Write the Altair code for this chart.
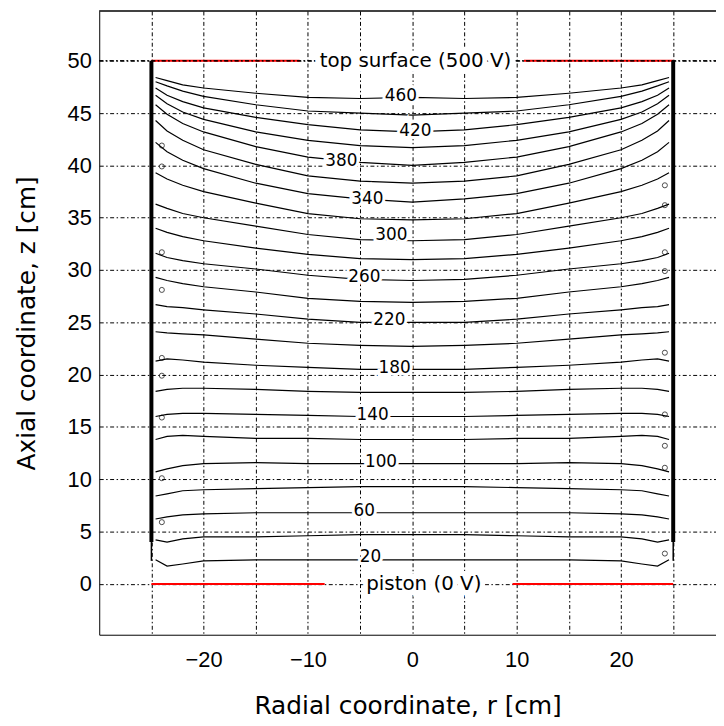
import altair as alt
import pandas as pd

# ---- data ----
levels = [20, 40, 60, 80, 100, 120, 140, 160, 180, 200, 220, 240,
          260, 280, 300, 320, 340, 360, 380, 400, 420, 440, 460]
# |r| positions (cm) at which each equipotential was read (mirrored on both sides)
r_half = [0, 5, 10, 15, 20, 22, 23.5, 24.6]
z_profiles = [
    [2.3, 2.3, 2.3, 2.3, 2.2, 1.9, 1.7, 2.3],
    [4.7, 4.7, 4.6, 4.5, 4.5, 4.3, 4.0, 4.2],
    [6.8, 6.8, 6.8, 6.8, 6.7, 6.6, 6.4, 6.2],
    [9.3, 9.3, 9.2, 9.1, 9.0, 8.9, 8.6, 8.4],
    [11.5, 11.5, 11.5, 11.6, 11.5, 11.3, 11.0, 10.7],
    [13.8, 13.8, 13.9, 13.9, 14.1, 14.2, 14.1, 13.8],
    [16.0, 16.0, 16.1, 16.2, 16.3, 16.3, 16.2, 16.0],
    [18.3, 18.3, 18.4, 18.6, 18.7, 18.7, 18.6, 18.4],
    [20.5, 20.5, 20.7, 20.9, 21.2, 21.4, 21.5, 21.3],
    [22.7, 22.8, 23.0, 23.4, 23.8, 23.9, 24.0, 24.1],
    [25.0, 25.0, 25.3, 25.8, 26.2, 26.4, 26.5, 26.7],
    [26.9, 27.0, 27.3, 27.9, 28.4, 28.7, 29.0, 29.3],
    [29.0, 29.1, 29.5, 30.1, 30.6, 30.9, 31.2, 31.6],
    [31.0, 31.1, 31.5, 32.1, 32.8, 33.2, 33.6, 34.0],
    [32.8, 32.9, 33.4, 34.2, 35.0, 35.4, 35.9, 36.3],
    [34.8, 34.9, 35.4, 36.4, 37.5, 38.1, 38.7, 39.3],
    [36.5, 36.8, 37.3, 38.3, 39.7, 40.5, 41.3, 42.2],
    [38.3, 38.5, 39.0, 40.1, 41.5, 42.4, 43.3, 44.3],
    [40.0, 40.3, 40.8, 41.8, 43.2, 44.0, 44.9, 45.8],
    [41.7, 41.9, 42.4, 43.2, 44.4, 45.1, 45.9, 46.7],
    [43.2, 43.4, 43.9, 44.6, 45.5, 46.1, 46.7, 47.4],
    [44.8, 45.0, 45.2, 45.8, 46.6, 47.1, 47.6, 48.0],
    [46.5, 46.4, 46.5, 46.9, 47.4, 47.7, 48.1, 48.4],
]

label_text = ["20", "60", "100", "140", "180", "220", "260", "300", "340", "380", "420", "460"]
label_r = [-4.0, -4.6, -3.0, -3.8, -1.7, -2.2, -4.6, -2.0, -4.3, -6.8, 0.3, -1.1]
label_z = [2.6, 7.0, 11.6, 16.1, 20.6, 25.2, 29.3, 33.3, 36.8, 40.4, 43.3, 46.6]

top_r0 = [-25, 10.7]
top_r1 = [-10.8, 25]
top_z = [50, 50]
bot_r0 = [-25, 9.6]
bot_r1 = [-8.4, 25]
bot_z = [0, 0]

wall_r = [-25, 25]
wall_z0 = [4.0, 4.0]
wall_z1 = [50, 50]
wall_thin_z0 = [2.2, 2.2]

loop_r = [-24.0] * 9 + [24.2] * 9
loop_z = [41.9, 39.9, 31.7, 28.1, 21.6, 19.9, 15.9, 10.1, 5.9,
          38.1, 36.2, 31.7, 29.9, 22.1, 16.2, 13.2, 11.1, 2.9]

surf_text = ["top surface (500 V)", "piston (0 V)"]
surf_r = [0.3, 1.1]
surf_z = [50, 0]

# ---- tables ----
rows = []
for lvl, prof in zip(levels, z_profiles):
    k = 0
    for rr, zz in zip(r_half[::-1], prof[::-1]):
        rows.append({"level": lvl, "r": -rr, "z": zz, "k": k}); k += 1
    for rr, zz in zip(r_half[1:], prof[1:]):
        rows.append({"level": lvl, "r": rr, "z": zz, "k": k}); k += 1
contours = pd.DataFrame(rows)
labels = pd.DataFrame({"t": label_text, "r": label_r, "z": label_z})
top_df = pd.DataFrame({"r": top_r0, "r2": top_r1, "z": top_z})
bot_df = pd.DataFrame({"r": bot_r0, "r2": bot_r1, "z": bot_z})
wall_df = pd.DataFrame({"r": wall_r, "z": wall_z0, "z2": wall_z1})
wall_thin_df = pd.DataFrame({"r": wall_r, "z": wall_thin_z0, "z2": wall_z0})
loop_df = pd.DataFrame({"r": loop_r, "z": loop_z})
surf_df = pd.DataFrame({"t": surf_text, "r": surf_r, "z": surf_z})

W, H = 622, 629
xs = alt.Scale(domain=[-30, 29.1], nice=False, zero=False)
ys = alt.Scale(domain=[-4.86, 54.76], nice=False, zero=False)
GD = [4, 2.5, 1.5, 2.5]

xaxis = alt.Axis(values=list(range(-25, 30, 5)),
                 labelExpr="datum.value % 10 === 0 ? datum.label : ''",
                 grid=True, gridColor="black", gridOpacity=1, gridDash=GD, gridWidth=1,
                 ticks=False, domain=True, domainColor="black", domainWidth=1,
                 labelFont="Liberation Sans", labelFontSize=22, labelColor="black",
                 labelPadding=15, labelFlush=False, labelOverlap=False,
                 title="Radial coordinate, r  [cm]", titleFont="DejaVu Sans",
                 titleFontSize=25, titleFontWeight="normal", titleColor="black",
                 titlePadding=23)
yaxis = alt.Axis(values=list(range(0, 55, 5)),
                 grid=True, gridColor="black", gridOpacity=1, gridDash=GD, gridWidth=1,
                 ticks=False, domain=True, domainColor="black", domainWidth=1,
                 labelFont="Liberation Sans", labelFontSize=22, labelColor="black",
                 labelPadding=8, labelFlush=False, labelOverlap=False,
                 title="Axial coordinate, z [cm]", titleFont="DejaVu Sans",
                 titleFontSize=25, titleFontWeight="normal", titleColor="black",
                 titlePadding=28)

def X(f="r"):
    return alt.X(f"{f}:Q", scale=xs, axis=xaxis)

def Y(f="z"):
    return alt.Y(f"{f}:Q", scale=ys, axis=yaxis)

top_red = alt.Chart(top_df).mark_rule(color="#ff0000", strokeWidth=2).encode(
    x=X(), x2="r2:Q", y=Y())
top_grid = alt.Chart(top_df).mark_rule(color="black", strokeWidth=1, strokeDash=GD).encode(
    x=alt.value(0), x2=alt.value(W), y=Y())
lines = alt.Chart(contours).mark_line(color="black", strokeWidth=1.2, interpolate="linear").encode(
    x=X(), y=Y(), detail="level:N", order="k:Q")
wall = alt.Chart(wall_df).mark_rule(color="black", strokeWidth=4).encode(
    x=X(), y=Y(), y2="z2:Q")
wall_thin = alt.Chart(wall_thin_df).mark_rule(color="black", strokeWidth=1.5).encode(
    x=X(), y=Y(), y2="z2:Q")
loops = alt.Chart(loop_df).mark_point(shape="circle", filled=False, color="black",
                                      size=26, strokeWidth=1).encode(x=X(), y=Y())
bot_red = alt.Chart(bot_df).mark_rule(color="#ff0000", strokeWidth=2).encode(
    x=X(), x2="r2:Q", y=Y())
lab_halo = alt.Chart(labels).mark_text(font="DejaVu Sans", fontSize=17, color="white",
                                       stroke="white", strokeWidth=6, baseline="middle",
                                       align="center").encode(x=X(), y=Y(), text="t:N")
lab = alt.Chart(labels).mark_text(font="DejaVu Sans", fontSize=17, color="black",
                                  baseline="middle", align="center").encode(
    x=X(), y=Y(), text="t:N")
surf_halo = alt.Chart(surf_df).mark_text(font="DejaVu Sans", fontSize=20, color="white",
                                         stroke="white", strokeWidth=10, baseline="middle",
                                         align="center").encode(x=X(), y=Y(), text="t:N")
surf = alt.Chart(surf_df).mark_text(font="DejaVu Sans", fontSize=20, color="black",
                                    baseline="middle", align="center").encode(
    x=X(), y=Y(), text="t:N")
border = alt.Chart(top_df).mark_rule(color="black", strokeWidth=1).encode(
    x=alt.value(0), x2=alt.value(W), y=alt.value(0))

chart = alt.layer(top_red, top_grid, lines, wall, wall_thin, loops, bot_red,
                  lab_halo, lab, surf_halo, surf, border).properties(
    width=W, height=H,
    autosize=alt.AutoSizeParams(type="none"),
    padding={"left": 92, "top": 0, "right": 0, "bottom": 88},
    background="white",
).configure_view(stroke=None)

chart.save("out.html", embed_options={"renderer": "svg", "actions": False})
